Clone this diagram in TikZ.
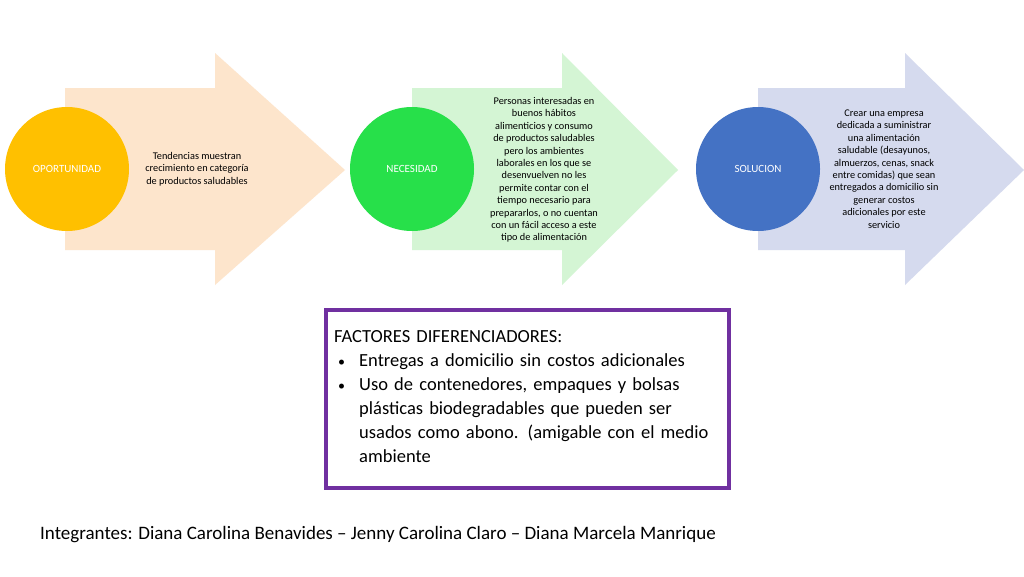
\documentclass[tikz,border=0pt]{standalone}
\usepackage{fontspec}
\setmainfont{Carlito}
\usepackage{enumitem}
\begin{document}
\begin{tikzpicture}[x=1pt,y=-1pt,
  circ/.style={circle,minimum size=124pt,inner sep=0pt,text=white,font=\fontsize{11}{13}\selectfont},
  desc/.style={align=center,font=\fontsize{10.3}{12.4}\selectfont,inner sep=0pt}]
\useasboundingbox (0,0) rectangle (1024,576);
\fill[white] (0,0) rectangle (1024,576);
\definecolor{pe}{HTML}{FDE5CC}\definecolor{gr}{HTML}{D4F5D4}\definecolor{bl}{HTML}{D5DAEE}
\definecolor{c1}{HTML}{FFC000}\definecolor{c2}{HTML}{27E04A}\definecolor{c3}{HTML}{4472C4}
\definecolor{pu}{HTML}{7030A0}
\fill[pe] (65,88) -- (215,88) -- (215,53) -- (345,170) -- (215,285) -- (215,250) -- (65,250) -- cycle;
\fill[gr] (412,88) -- (562,88) -- (562,53) -- (678,170) -- (562,285) -- (562,250) -- (412,250) -- cycle;
\fill[bl] (758,88) -- (905,88) -- (905,53) -- (1024,170) -- (905,285) -- (905,250) -- (758,250) -- cycle;
\node[circ,fill=c1] (o) at (67,169) {OPORTUNIDAD};
\node[circ,fill=c2] (n) at (412,169) {NECESIDAD};
\node[circ,fill=c3] (s) at (758,169) {SOLUCION};
\node[desc] (t1) at (197,169) {Tendencias muestran\\crecimiento en categoría\\de productos saludables};
\node[desc] (t2) at (544,170) {Personas interesadas en\\buenos hábitos\\alimenticios y consumo\\de productos saludables\\pero los ambientes\\laborales en los que se\\desenvuelven no les\\permite contar con el\\tiempo necesario para\\prepararlos, o no cuentan\\con un fácil acceso a este\\tipo de alimentación};
\node[desc] (t3) at (884,169) {Crear una empresa\\dedicada a suministrar\\una alimentación\\saludable (desayunos,\\almuerzos, cenas, snack\\entre comidas) que sean\\entregados a domicilio sin\\generar costos\\adicionales por este\\servicio};
\draw[pu,line width=4pt] (326,310) rectangle (729,488);
\node[anchor=north west,text width=386pt,inner sep=0pt,font=\fontsize{18.5}{24}\selectfont] (f) at (334,330) {\noindent FACTORES DIFERENCIADORES:
\begin{itemize}[leftmargin=25pt,labelsep=14pt,itemsep=0pt,topsep=0pt,parsep=0pt,partopsep=0pt,label={\fontsize{14}{14}\selectfont•}]
\item Entregas a domicilio sin costos adicionales
\item Uso de contenedores, empaques y bolsas\linebreak plásticas biodegradables que pueden ser\linebreak usados como abono. (amigable con el medio\linebreak ambiente
\end{itemize}};
\node[anchor=west,inner sep=0pt,font=\fontsize{19}{22}\selectfont] (m) at (40,535) {Integrantes: Diana Carolina Benavides – Jenny Carolina Claro – Diana Marcela Manrique};
\end{tikzpicture}
\end{document}
